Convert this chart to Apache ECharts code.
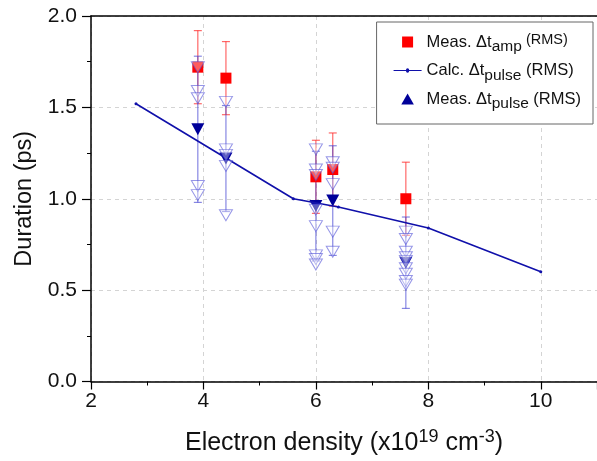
<!DOCTYPE html>
<html><head><meta charset="utf-8">
<script src="https://cdn.jsdelivr.net/npm/echarts@6/dist/echarts.min.js"></script>
<style>html,body{margin:0;padding:0;background:#fff}#c{width:597px;height:461px}</style>
</head><body><div id="c"></div>
<script>
// ---- data ----
const densX = [3.9, 4.4, 6.0, 6.3, 7.6];
const ampY = [1.72, 1.66, 1.12, 1.16, 1.00];
const ampErr = [0.2, 0.2, 0.2, 0.2, 0.2];
const pulseY = [1.38, 1.22, 0.96, 0.99, 0.65];
const pulseErr = [0.4, 0.29, 0.3, 0.3, 0.25];
const pulseSamples = [
  [1.72, 1.59, 1.55, 1.07, 1.02],
  [1.53, 1.27, 1.24, 1.18, 0.91],
  [1.27, 1.16, 1.13, 0.94, 0.85, 0.69, 0.67, 0.64],
  [1.20, 1.17, 1.08, 0.82, 0.71],
  [0.82, 0.78, 0.71, 0.68, 0.66, 0.62, 0.59, 0.55, 0.53]
];
const calcX = [2.8, 5.6, 6.4, 8.0, 10.0];
const calcY = [1.52, 1.00, 0.955, 0.84, 0.60];
const xTicks = [2, 4, 6, 8, 10];
const yTicks = [0.0, 0.5, 1.0, 1.5, 2.0];

const FONT = 'Liberation Sans';
const chart = echarts.init(document.getElementById('c'));

function errBar(color, cap) {
  return function (params, api) {
    const x = api.value(0), y = api.value(1), e = api.value(2);
    const t = api.coord([x, y + e]), b = api.coord([x, y - e]);
    const st = { stroke: color, lineWidth: 1.2 };
    return { type: 'group', children: [
      { type: 'line', shape: { x1: t[0], y1: t[1], x2: b[0], y2: b[1] }, style: st },
      { type: 'line', shape: { x1: t[0] - cap, y1: t[1], x2: t[0] + cap, y2: t[1] }, style: st },
      { type: 'line', shape: { x1: b[0] - cap, y1: b[1], x2: b[0] + cap, y2: b[1] }, style: st }
    ]};
  };
}

const ampData = densX.map((x, i) => [x, ampY[i], ampErr[i]]);
const pulseData = densX.map((x, i) => [x, pulseY[i], pulseErr[i]]);
const sampleData = [];
pulseSamples.forEach((arr, i) => arr.forEach(v => sampleData.push([densX[i], v])));
const calcData = calcX.map((x, i) => [x, calcY[i]]);

const lg = {
  m: { fontFamily: FONT, fontSize: 16.5, color: '#111' },
  s: { fontFamily: FONT, fontSize: 15.5, color: '#111', padding: [10, 0, 0, 0] },
  r: { fontFamily: FONT, fontSize: 14.5, color: '#111', padding: [0, 0, 5, 0] }
};
const ICON_SQ = 'path://M0,0 L10,0 L10,10 L0,10 Z';
const ICON_TRI = 'path://M6,0 L12,10.5 L0,10.5 Z';
const ICON_LINE = 'path://M0,2.4 L12.4,2.4 A1.6,1.6 0 0 1 15.6,2.4 L28,2.4 L28,3.6 L15.6,3.6 A1.6,1.6 0 0 1 12.4,3.6 L0,3.6 Z';

chart.setOption({
  animation: false,
  grid: { left: 91, right: 0, top: 16, bottom: 76 },
  legend: {
    orient: 'vertical', right: 4, top: 22,
    backgroundColor: '#fff', borderColor: '#666', borderWidth: 1,
    padding: [10, 12, 12, 17], itemGap: 7, itemWidth: 28, itemHeight: 11,
    textStyle: { rich: lg },
    data: [
      { name: 'amp', icon: ICON_SQ, itemStyle: { color: '#ff0000' } },
      { name: 'calc', icon: ICON_LINE, itemStyle: { color: '#1010aa' } },
      { name: 'pulse', icon: ICON_TRI, itemStyle: { color: '#000099' } }
    ],
    formatter: function (n) {
      if (n === 'amp') return '{m|Meas. Δt}{s|amp}{r| (RMS)}';
      if (n === 'calc') return '{m|Calc. Δt}{s|pulse}{m| (RMS)}';
      return '{m|Meas. Δt}{s|pulse}{m| (RMS)}';
    }
  },
  xAxis: [{
    type: 'value', min: 2, max: 11, interval: 2,
    name: '{a|Electron density (x10}{b|19}{a| cm}{b|-3}{a|)}',
    nameLocation: 'middle', nameGap: 47,
    nameTextStyle: { rich: {
      a: { fontFamily: FONT, fontSize: 25, color: '#111' },
      b: { fontFamily: FONT, fontSize: 18, color: '#111', padding: [0, 0, 12, 0] }
    }},
    axisLine: { lineStyle: { color: '#000', width: 1.5 } },
    axisTick: { length: 8, lineStyle: { color: '#000', width: 1.2 } },
    minorTick: { show: true, splitNumber: 2, length: 4, lineStyle: { color: '#000', width: 1 } },
    axisLabel: { fontFamily: FONT, fontSize: 21, color: '#111', margin: 9, showMaxLabel: false,
      formatter: v => (xTicks.indexOf(v) >= 0 ? String(v) : '') },
    splitLine: { show: true, lineStyle: { color: '#d4d4d4', type: [4, 4], width: 1 } }
  }, {
    type: 'value', position: 'top', min: 2, max: 11,
    axisLine: { show: true, onZero: false, lineStyle: { color: '#000', width: 1.5 } },
    axisTick: { show: false }, axisLabel: { show: false }, splitLine: { show: false }
  }],
  yAxis: {
    type: 'value', min: 0, max: 2, interval: 0.5,
    name: 'Duration (ps)', nameLocation: 'middle', nameGap: 48,
    nameTextStyle: { fontFamily: FONT, fontSize: 23.5, color: '#111' },
    axisLine: { show: true, lineStyle: { color: '#000', width: 1.5 } },
    axisTick: { show: true, length: 9, lineStyle: { color: '#000', width: 1.2 } },
    minorTick: { show: true, splitNumber: 2, length: 4, lineStyle: { color: '#000', width: 1 } },
    axisLabel: { fontFamily: FONT, fontSize: 21, color: '#111', margin: 14,
      formatter: v => { const t = yTicks.find(k => Math.abs(k - v) < 1e-9); return t === undefined ? '' : t.toFixed(1); } },
    splitLine: { show: true, lineStyle: { color: '#d4d4d4', type: [4, 4], width: 1 } }
  },
  series: [
    { type: 'custom', name: 'ampErr', renderItem: errBar('rgba(255,40,40,0.7)', 4), data: ampData, z: 2, silent: true },
    { type: 'custom', name: 'pulseErr', renderItem: errBar('rgba(70,70,210,0.65)', 4), data: pulseData, z: 2, silent: true },
    { type: 'scatter', name: 'amp', data: ampData.map(d => [d[0], d[1]]), symbol: 'rect', symbolSize: 11,
      itemStyle: { color: '#ff0000', opacity: 1 }, z: 3 },
    { type: 'scatter', name: 'pulse', data: pulseData.map(d => [d[0], d[1]]), symbol: 'triangle', symbolRotate: 180,
      symbolSize: [13, 12], itemStyle: { color: '#000099', opacity: 1 }, z: 4 },
    { type: 'line', name: 'calc', data: calcData, symbol: 'circle', symbolSize: 3, showSymbol: true,
      lineStyle: { color: '#1010aa', width: 1.6 }, itemStyle: { color: '#1010aa' }, z: 5 },
    { type: 'scatter', name: 'samples', data: sampleData, symbol: 'triangle', symbolRotate: 180, symbolSize: [13, 11],
      itemStyle: { color: 'rgba(255,255,255,0.45)', borderColor: 'rgba(80,80,215,0.75)', borderWidth: 1 }, z: 6 }
  ]
});
</script></body></html>
